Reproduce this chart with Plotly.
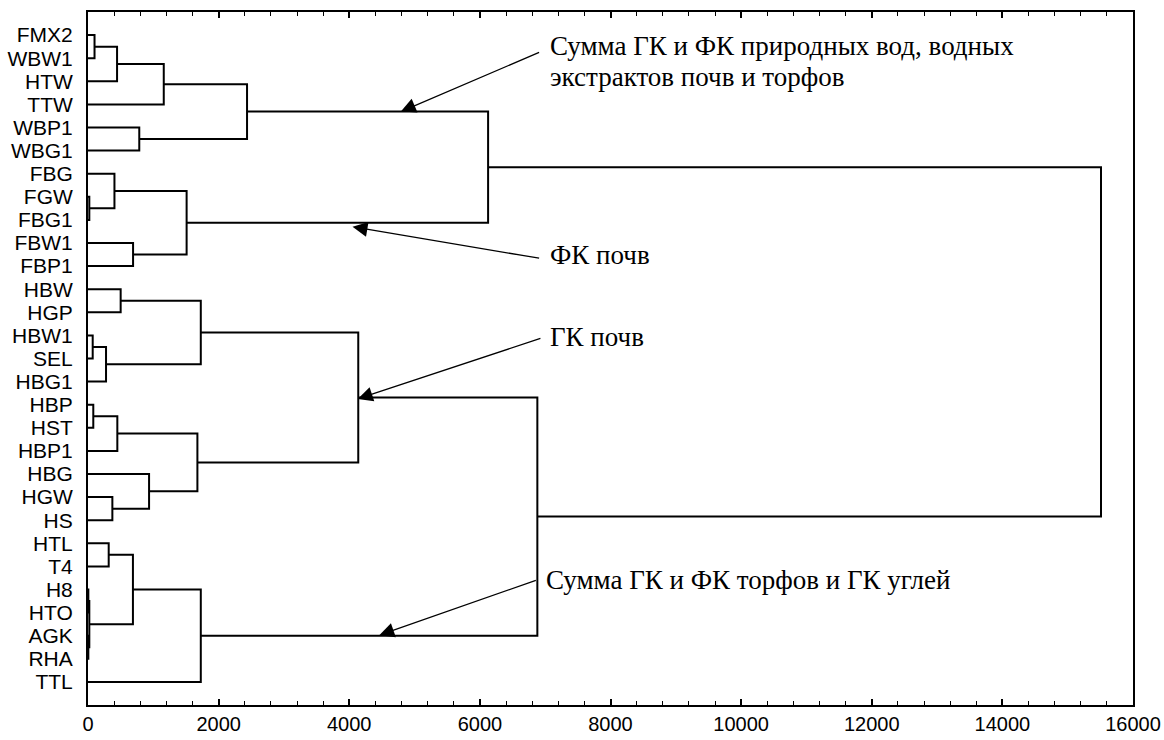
import plotly.graph_objects as go

# ---- data ----
leaves = ["FMX2", "WBW1", "HTW", "TTW", "WBP1", "WBG1", "FBG", "FGW", "FBG1",
          "FBW1", "FBP1", "HBW", "HGP", "HBW1", "SEL", "HBG1", "HBP", "HST",
          "HBP1", "HBG", "HGW", "HS", "HTL", "T4", "H8", "HTO", "AGK", "RHA", "TTL"]

# merges: cluster "cK" is created by the K-th entry
merge_a = ["FMX2", "c0", "c1", "WBP1", "c2", "FGW", "FBG", "FBW1", "c6", "c4",
           "HBW", "HBW1", "c11", "c10", "HBP", "c14", "HGW", "HBG", "c15", "c13",
           "HTL", "H8", "AGK", "c21", "c20", "c24", "c19", "c9"]
merge_b = ["WBW1", "HTW", "TTW", "WBG1", "c3", "FBG1", "c5", "FBP1", "c7", "c8",
           "HGP", "SEL", "HBG1", "c12", "HST", "HBP1", "HS", "c16", "c17", "c18",
           "T4", "HTO", "RHA", "c22", "c23", "TTL", "c25", "c26"]
merge_h = [100, 445, 1160, 785, 2435, 20, 405, 690, 1510, 6126,
           500, 72, 276, 1727, 81, 449, 373, 935, 1675, 4138,
           317, 5, 5, 20, 688, 1727, 6880, 15510]

x_ticks = [0, 2000, 4000, 6000, 8000, 10000, 12000, 14000, 16000]

notes = ["Сумма ГК и ФК природных вод, водных", "экстрактов почв и торфов",
         "ФК почв", "ГК почв", "Сумма ГК и ФК торфов и ГК углей"]
note_x = [7050, 7050, 7050, 7050, 6980]
note_y = [0.46, 1.80, 9.54, 13.08, 23.58]
arrow_tail_x = [6930, 6930, 6950, 6880]
arrow_tail_y = [0.72, 9.67, 13.11, 23.58]
arrow_tip_x = [4790, 4050, 4130, 4460]
arrow_tip_y = [3.31, 8.30, 15.75, 25.98]

# ---- build dendrogram ----
pos = {name: i for i, name in enumerate(leaves)}
hgt = {name: 0 for name in leaves}
xs, ys = [], []
for k, (a, b, h) in enumerate(zip(merge_a, merge_b, merge_h)):
    xs += [hgt[a], h, h, hgt[b], None]
    ys += [pos[a], pos[a], pos[b], pos[b], None]
    pos[f"c{k}"] = (pos[a] + pos[b]) / 2
    hgt[f"c{k}"] = h

fig = go.Figure()
fig.add_trace(go.Scatter(x=xs, y=ys, mode="lines",
                         line=dict(color="black", width=2),
                         hoverinfo="skip", showlegend=False))

ann = []
for t, x, y in zip(notes, note_x, note_y):
    ann.append(dict(text=t, x=x, y=y, xref="x", yref="y", showarrow=False,
                    xanchor="left", yanchor="middle", align="left",
                    font=dict(family="Liberation Serif", size=27, color="black")))
for tx, ty, hx, hy in zip(arrow_tail_x, arrow_tail_y, arrow_tip_x, arrow_tip_y):
    ann.append(dict(text="", x=hx, y=hy, ax=tx, ay=ty, xref="x", yref="y",
                    axref="x", ayref="y", showarrow=True, arrowhead=2,
                    arrowsize=2.3, arrowwidth=1.3, arrowcolor="black", standoff=0))

fig.update_layout(
    width=1164, height=740,
    margin=dict(l=88, r=31, t=12, b=35, autoexpand=False),
    paper_bgcolor="white", plot_bgcolor="white",
    annotations=ann,
    xaxis=dict(range=[0, 16000], tickvals=x_ticks, tickformat="d",
               ticks="inside", ticklen=6, tickwidth=1.5, tickcolor="black",
               minor=dict(dtick=400, ticks="inside", ticklen=4, tickwidth=1.3,
                          tickcolor="black", showgrid=False),
               showline=True, linewidth=2, linecolor="black", mirror="allticks",
               showgrid=False, zeroline=False, automargin=False,
               tickfont=dict(family="Liberation Sans", size=20, color="black")),
    yaxis=dict(range=[29, -1], tickvals=list(range(len(leaves))), ticktext=leaves,
               ticks="", showline=True, linewidth=2, linecolor="black", mirror=True,
               showgrid=False, zeroline=False, automargin=False,
               ticklabelstandoff=9,
               tickfont=dict(family="Liberation Sans", size=21, color="black")),
)

fig.write_html("out.html", config={"displayModeBar": False},
               post_script="document.body.style.margin='0px';document.body.style.overflow='hidden';")
